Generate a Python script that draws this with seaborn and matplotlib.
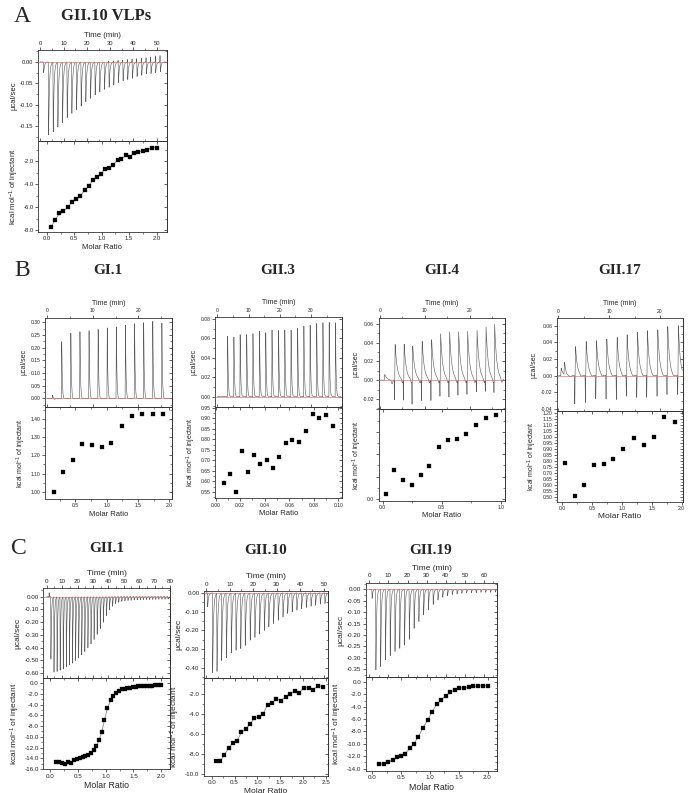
import numpy as np
import pandas as pd
import matplotlib
matplotlib.use("Agg")
import matplotlib.pyplot as plt
import seaborn as sns
from matplotlib.ticker import MultipleLocator, FormatStrFormatter, FuncFormatter

# ---------------- DATA ----------------
# Panel A: GII.10 VLPs
A_time = [1.3, 3.4, 5.4, 7.4, 9.4, 11.4, 13.4, 15.4, 17.4, 19.4, 21.4, 23.4, 25.4,
          27.4, 29.4, 31.4, 33.4, 35.4, 37.4, 39.4, 41.4, 43.4, 45.4, 47.4, 49.4, 51.4]
A_peak = [-0.025, -0.171, -0.163, -0.152, -0.142, -0.130, -0.120, -0.112, -0.103, -0.093,
          -0.085, -0.077, -0.070, -0.064, -0.059, -0.054, -0.048, -0.044, -0.041, -0.038,
          -0.034, -0.031, -0.028, -0.027, -0.025, -0.023]
A_blip = [0.0, 0.002, 0.003, 0.004, 0.005, 0.006, 0.007, 0.008, 0.009, 0.010, 0.012, 0.014, 0.015]
A_ratio = [0.08, 0.15, 0.23, 0.30, 0.38, 0.46, 0.53, 0.61, 0.69, 0.76, 0.84, 0.91, 0.99,
           1.06, 1.14, 1.21, 1.29, 1.36, 1.44, 1.52, 1.59, 1.67, 1.75, 1.82, 1.91, 2.00]
A_heat = [-7.71, -7.13, -6.54, -6.37, -6.02, -5.56, -5.32, -5.06, -4.50, -4.18, -3.66, -3.34,
          -3.08, -2.70, -2.58, -2.29, -1.88, -1.83, -1.48, -1.59, -1.24, -1.19, -1.07, -1.01,
          -0.81, -0.81]

# Panel B: GI.1
B1_time = [1.1, 3.1, 5.1, 7.1, 9.1, 11.1, 13.1, 15.1, 17.1, 19.1, 21.1, 23.1, 25.1]
B1_peak = [0.013, 0.224, 0.257, 0.263, 0.267, 0.272, 0.278, 0.282, 0.289, 0.295, 0.299, 0.304, 0.297]
B1_ratio = [0.16, 0.31, 0.46, 0.61, 0.76, 0.92, 1.07, 1.24, 1.40, 1.57, 1.73, 1.90]
B1_heat = [0.996, 1.11, 1.172, 1.26, 1.255, 1.244, 1.268, 1.36, 1.415, 1.43, 1.426, 1.43]

# Panel B: GII.3
B3_time = [3.2, 5.2, 7.2, 9.3, 11.3, 13.4, 15.4, 17.4, 19.5, 21.5, 23.5, 25.6, 27.6, 29.6,
           31.7, 33.7, 35.7, 37.7]
B3_peak = [0.0625, 0.0615, 0.064, 0.064, 0.065, 0.0676, 0.066, 0.0687, 0.0683, 0.0687, 0.0687,
           0.0704, 0.0728, 0.0738, 0.0755, 0.0762, 0.0766, 0.0762]
B3_ratio = [0.0068, 0.0117, 0.0166, 0.0215, 0.0264, 0.0313, 0.0364, 0.0416, 0.0467, 0.0519,
            0.0573, 0.0625, 0.068, 0.0736, 0.0793, 0.0845, 0.0897, 0.0954]
B3_heat = [0.594, 0.635, 0.55, 0.746, 0.643, 0.724, 0.683, 0.70, 0.665, 0.718, 0.781, 0.798,
           0.787, 0.841, 0.922, 0.903, 0.915, 0.863]

# Panel B: GII.4
B4_time = [1.0, 3.3, 5.3, 7.2, 9.3, 11.4, 13.4, 15.4, 17.4, 19.4, 21.5, 23.5, 25.4]
B4_peak = [0.006, 0.038, 0.038, 0.036, 0.041, 0.0426, 0.049, 0.051, 0.051, 0.0515, 0.0525, 0.056, 0.059]
B4_dip = [0.0, -0.021, -0.021, -0.024, -0.022, -0.022, -0.017, -0.018, -0.016, -0.015, -0.013, -0.012, -0.012]
B4_ratio = [0.028, 0.10, 0.175, 0.249, 0.322, 0.395, 0.475, 0.551, 0.63, 0.709, 0.791, 0.873, 0.955]
B4_heat = [0.052, 0.327, 0.212, 0.16, 0.271, 0.364, 0.576, 0.658, 0.669, 0.725, 0.822, 0.90, 0.933]

# Panel B: GII.17
B17_time = [0.46, 1.1, 3.28, 5.38, 7.41, 9.44, 11.48, 13.44, 15.48, 17.44, 19.48, 21.44, 23.54]
B17_peak = [0.009, 0.015, 0.035, 0.041, 0.042, 0.044, 0.046, 0.049, 0.052, 0.054, 0.055, 0.059, 0.060]
B17_dip = [0.0, 0.0, -0.034, -0.0325, -0.028, -0.0285, -0.029, -0.025, -0.0265, -0.0265, -0.025, -0.023, -0.023]
B17_ratio = [0.045, 0.206, 0.367, 0.528, 0.695, 0.857, 1.023, 1.195, 1.367, 1.533, 1.712, 1.883]
B17_heat = [0.785, 0.511, 0.602, 0.768, 0.771, 0.815, 0.896, 0.987, 0.929, 0.996, 1.162, 1.123]

# Panel C: GII.1
C1_time = [2.6, 4.6, 6.6, 8.6, 10.6, 12.6, 14.6, 16.6, 18.6, 20.6, 22.6, 24.6, 26.6, 28.6,
           30.6, 32.6, 34.6, 36.6, 38.6, 40.6, 42.6, 44.6, 46.6, 48.6, 50.6, 52.6, 54.6, 56.6,
           58.6, 60.6, 62.6, 64.6, 66.6, 68.6, 70.6, 72.6, 74.6, 76.6, 78.6]
C1_peak = [-0.49, -0.59, -0.585, -0.575, -0.565, -0.55, -0.535, -0.52, -0.50, -0.48, -0.455,
           -0.43, -0.40, -0.37, -0.335, -0.295, -0.25, -0.20, -0.15, -0.105, -0.075, -0.055,
           -0.045, -0.038, -0.034, -0.031, -0.029, -0.027, -0.026, -0.025, -0.024, -0.023,
           -0.023, -0.022, -0.022, -0.021, -0.021, -0.021, -0.020]
C1_ratio = [0.108, 0.157, 0.205, 0.259, 0.319, 0.367, 0.427, 0.482, 0.53, 0.58, 0.632, 0.686,
            0.735, 0.783, 0.831, 0.879, 0.928, 0.976, 1.03, 1.085, 1.133, 1.187, 1.236, 1.284,
            1.338, 1.386, 1.435, 1.489, 1.537, 1.585, 1.64, 1.688, 1.736, 1.79, 1.838, 1.886,
            1.94, 1.99]
C1_heat = [-14.76, -14.76, -14.94, -15.13, -14.63, -14.82, -14.38, -14.07, -13.89, -13.76,
           -13.64, -13.33, -12.95, -12.45, -11.71, -10.52, -9.09, -6.79, -4.67, -3.18, -2.31,
           -1.75, -1.37, -1.13, -1.0, -0.94, -0.82, -0.69, -0.63, -0.57, -0.57, -0.50, -0.50,
           -0.44, -0.44, -0.38, -0.38, -0.32]

# Panel C: GII.10
C10_time = [0.56, 2.68, 4.52, 6.5, 8.5, 10.6, 12.6, 14.6, 16.5, 18.6, 20.6, 22.6, 24.6, 26.5,
            28.5, 30.5, 32.5, 34.5, 36.4, 38.4, 40.4, 42.4, 44.4, 46.3, 48.3, 50.3]
C10_peak = [-0.075, -0.427, -0.418, -0.36, -0.347, -0.32, -0.306, -0.297, -0.28, -0.252, -0.238,
            -0.22, -0.20, -0.181, -0.164, -0.146, -0.128, -0.11, -0.101, -0.092, -0.084, -0.078,
            -0.071, -0.066, -0.06, -0.057]
C10_ratio = [0.087, 0.18, 0.277, 0.372, 0.459, 0.554, 0.649, 0.743, 0.838, 0.933, 1.028, 1.122,
             1.224, 1.319, 1.414, 1.516, 1.618, 1.72, 1.822, 1.917, 2.019, 2.121, 2.223, 2.332, 2.44]
C10_heat = [-8.62, -8.69, -8.06, -7.33, -6.9, -6.67, -5.81, -5.48, -5.01, -4.42, -4.25, -4.02,
            -3.06, -2.93, -2.46, -2.66, -2.26, -1.97, -1.70, -1.87, -1.37, -1.40, -1.57, -1.17, -1.27]

# Panel C: GII.19
C19_time = [1.3, 3.3, 5.8, 8.3, 10.8, 13.3, 15.8, 18.3, 20.8, 23.3, 25.8, 28.3, 30.8, 33.3,
            35.8, 38.3, 40.8, 43.3, 45.8, 48.3, 50.8, 53.3, 55.8, 58.3, 60.8, 63.3, 65.8]
C19_peak = [-0.04, -0.353, -0.338, -0.309, -0.29, -0.272, -0.258, -0.244, -0.219, -0.171, -0.141,
            -0.112, -0.09, -0.066, -0.047, -0.035, -0.028, -0.023, -0.02, -0.0175, -0.016, -0.015,
            -0.015, -0.013, -0.013, -0.013, -0.012]
C19_ratio = [0.122, 0.203, 0.278, 0.354, 0.423, 0.498, 0.573, 0.649, 0.724, 0.799, 0.88, 0.961,
             1.036, 1.117, 1.193, 1.274, 1.354, 1.436, 1.51, 1.592, 1.673, 1.754, 1.84, 1.927, 2.014]
C19_heat = [-13.19, -13.25, -12.92, -12.65, -12.17, -11.95, -11.58, -10.72, -9.96, -8.83, -7.38,
            -6.19, -4.85, -3.61, -2.91, -2.26, -1.62, -1.35, -0.97, -0.97, -0.81, -0.70, -0.65,
            -0.59, -0.59]

# ---------------- STYLE ----------------
sns.set_theme(style="ticks")
plt.rcParams['font.family'] = ['Liberation Sans', 'DejaVu Sans']
plt.rcParams['axes.unicode_minus'] = False
plt.rcParams['axes.linewidth'] = 0.6
plt.rcParams['mathtext.fontset'] = 'custom'
plt.rcParams['mathtext.rm'] = 'Liberation Sans'
plt.rcParams['mathtext.it'] = 'Liberation Sans:italic'

W, H = 695, 793
fig = plt.figure(figsize=(W / 100, H / 100), dpi=100)
fig.patch.set_facecolor('white')


def rect(l, r, t, b):
    return [l / W, 1 - b / H, (r - l) / W, (b - t) / H]


def thermo(times, heights, rise, tau, t0, t1, spike_t=(), spike_h=(), post=0.0,
           post_c=1.0, post_w=0.3, step=0.01):
    t = np.arange(t0, t1, step)
    y = np.zeros_like(t)
    for ti, h in zip(times, heights):
        s = t - ti
        m1 = (s >= 0) & (s < rise)
        y[m1] += h * s[m1] / rise
        m2 = s >= rise
        y[m2] += h * np.exp(-(s[m2] - rise) / tau)
        if post:
            y += post * np.exp(-((s - post_c) / post_w) ** 2)
    for ti, h in zip(spike_t, spike_h):
        s = t - ti
        w = 0.08
        m = np.abs(s) < w
        y[m] += h * (1 - np.abs(s[m]) / w)
    return pd.DataFrame({'time': t, 'power': y})


def style_axis(ax, side, xmaj, xmin, xfmt, ymaj, ymin, yfmt, fs):
    ax.xaxis.set_major_locator(MultipleLocator(xmaj))
    ax.xaxis.set_minor_locator(MultipleLocator(xmin))
    ax.yaxis.set_major_locator(MultipleLocator(ymaj))
    ax.yaxis.set_minor_locator(MultipleLocator(ymin))
    ax.xaxis.set_major_formatter(xfmt)
    ax.yaxis.set_major_formatter(yfmt)
    ax.xaxis.set_ticks_position(side)
    ax.xaxis.set_label_position(side)
    ax.yaxis.set_ticks_position('left')
    ax.tick_params(which='major', direction='out', length=2.0, width=0.5, labelsize=fs, pad=1.2,
                   colors='#222222')
    ax.tick_params(which='minor', direction='out', length=1.1, width=0.4)
    other = 'bottom' if side == 'top' else 'top'
    sx = ax.secondary_xaxis(other)
    sx.xaxis.set_major_locator(MultipleLocator(xmaj))
    sx.xaxis.set_minor_locator(MultipleLocator(xmin))
    sx.tick_params(which='major', direction='in', length=2.0, width=0.5, labelbottom=False, labeltop=False)
    sx.tick_params(which='minor', direction='in', length=1.1, width=0.4)
    sy = ax.secondary_yaxis('right')
    sy.yaxis.set_major_locator(MultipleLocator(ymaj))
    sy.yaxis.set_minor_locator(MultipleLocator(ymin))
    sy.tick_params(which='major', direction='in', length=2.0, width=0.5, labelright=False)
    sy.tick_params(which='minor', direction='in', length=1.1, width=0.4)
    for s in ax.spines.values():
        s.set_linewidth(0.6)
        s.set_color('#333333')


def panel(box, therm, tlim, tmaj, tmin, ylim_t, ymaj_t, ymin_t, yfmt_t,
          ratio, heat, xlim_b, xmaj_b, xmin_b, xfmt_b, ylim_b, ymaj_b, ymin_b, yfmt_b,
          fit, fs_tick, fs_lab, fs_molar):
    l, r, t, m, b = box
    axt = fig.add_axes(rect(l, r, t, m))
    axb = fig.add_axes(rect(l, r, m, b))
    sns.lineplot(data=therm, x='time', y='power', ax=axt, color='#5a5a5a', lw=0.42,
                 estimator=None, errorbar=None, sort=False)
    axt.axhline(0, color='#d96a6a', lw=0.45, zorder=3)
    axt.set_xlim(*tlim)
    axt.set_ylim(*ylim_t)
    style_axis(axt, 'top', tmaj, tmin, FormatStrFormatter('%d'), ymaj_t, ymin_t, yfmt_t, fs_tick)
    axt.set_xlabel('Time (min)', fontsize=fs_lab, labelpad=2.5)
    axt.set_ylabel('µcal/sec', fontsize=fs_lab, labelpad=2)

    df = pd.DataFrame({'ratio': ratio, 'heat': heat})
    if fit:
        sns.lineplot(data=df, x='ratio', y='heat', ax=axb, color='#8a8a8a', lw=0.6,
                     estimator=None, errorbar=None, sort=True)
    sns.scatterplot(data=df, x='ratio', y='heat', ax=axb, marker='s', s=7, color='black',
                    edgecolor='black', linewidth=0.2, zorder=4)
    axb.set_xlim(*xlim_b)
    axb.set_ylim(*ylim_b)
    style_axis(axb, 'bottom', xmaj_b, xmin_b, xfmt_b, ymaj_b, ymin_b, yfmt_b, fs_tick)
    axb.set_xlabel('Molar Ratio', fontsize=fs_molar, labelpad=1.5)
    axb.set_ylabel('kcal mol$^{-1}$ of injectant', fontsize=fs_lab, labelpad=2)
    return axt, axb


f2 = FormatStrFormatter('%.2f')
f1 = FormatStrFormatter('%.1f')

# ---- A ----
panel((38, 167, 50, 141, 232),
      thermo(A_time, A_peak, 0.15, 0.35, 0.0, 54.0, spike_t=A_time[13:], spike_h=A_blip),
      (-1, 54.4), 10, 5, (-0.185, 0.028), 0.05, 0.025, f2,
      A_ratio, A_heat, (-0.16, 2.19), 0.5, 0.25, f1, (-8.17, -0.23), 2.0, 1.0, f1,
      True, 4.2, 5.6, 5.6)

# ---- B ----
panel((45, 172, 317.7, 407, 499),
      thermo(B1_time, B1_peak, 0.08, 0.12, 0.0, 27.2, post=-0.004, post_c=0.5, post_w=0.25),
      (-0.5, 27.4), 10, 5, (-0.034, 0.318), 0.05, 0.025, f2,
      B1_ratio, B1_heat, (0.017, 2.04), 0.5, 0.25, f1, (0.96, 1.466), 0.10, 0.05, f2,
      False, 3.6, 5.0, 5.5)

panel((215, 341.7, 317.3, 406.7, 498.3),
      thermo(B3_time, B3_peak, 0.1, 0.2, 0.0, 39.6, post=-0.002, post_c=0.6, post_w=0.3),
      (-0.75, 39.8), 10, 5, (-0.0103, 0.0817), 0.02, 0.01, f2,
      B3_ratio, B3_heat, (-0.0005, 0.1027), 0.02, 0.01, f2, (0.52, 0.9547), 0.05, 0.025, f2,
      False, 3.6, 5.0, 5.5)

panel((378.5, 505, 317.7, 409.3, 500.7),
      thermo(B4_time, B4_peak, 0.1, 0.45, 0.0, 27.6, spike_t=[x - 0.05 for x in B4_time],
             spike_h=B4_dip, post=-0.004, post_c=1.7, post_w=0.2),
      (-0.3, 27.8), 10, 5, (-0.031, 0.0664), 0.02, 0.01, f2,
      B4_ratio, B4_heat, (-0.035, 1.035), 0.5, 0.25, f1, (-0.019, 1.0), 0.25, 0.125,
      FuncFormatter(lambda v, p: '0.0' if abs(v) < 1e-9 else ''),
      False, 3.6, 5.0, 5.5)

panel((556.7, 683.3, 318.3, 411, 501.7),
      thermo(B17_time, B17_peak, 0.1, 0.35, 0.0, 24.4, spike_t=[x - 0.05 for x in B17_time],
             spike_h=B17_dip, post=-0.002, post_c=1.2, post_w=0.3),
      (-0.33, 24.6), 10, 5, (-0.0426, 0.069), 0.02, 0.01, f2,
      B17_ratio, B17_heat, (-0.095, 2.03), 0.5, 0.25, f1, (0.461, 1.214), 0.05, 0.025, f2,
      False, 3.6, 5.0, 6.0)

# ---- C ----
panel((43.3, 170, 588.3, 678.3, 769.3),
      thermo(C1_time, C1_peak, 0.15, 0.35, 0.0, 79.5, spike_t=[1.6], spike_h=[0.03]),
      (-2.2, 80), 10, 5, (-0.64, 0.065), 0.10, 0.05, f2,
      C1_ratio, C1_heat, (-0.13, 2.16), 0.5, 0.25, f1, (-16.06, 0.93), 2.0, 1.0, f1,
      True, 4.5, 6.0, 6.3)

panel((204, 327.7, 591, 678.3, 776),
      thermo(C10_time, C10_peak, 0.15, 0.35, 0.0, 51.4),
      (-0.85, 51.6), 10, 5, (-0.457, 0.01), 0.10, 0.05, f2,
      C10_ratio, C10_heat, (-0.17, 2.54), 0.5, 0.25, f1, (-10.15, -0.44), 2.0, 1.0, f1,
      True, 4.5, 6.0, 6.0)

panel((365.7, 497.3, 582.7, 677.3, 771),
      thermo(C19_time, C19_peak, 0.15, 0.35, 0.0, 66.8),
      (-1.9, 67.0), 10, 5, (-0.385, 0.029), 0.05, 0.025, f2,
      C19_ratio, C19_heat, (-0.115, 2.17), 0.5, 0.25, f1, (-14.38, 0.75), 2.0, 1.0, f1,
      True, 4.5, 6.0, 6.3)

# ---- titles ----
def ftext(x, y, s, size, bold=False):
    fig.text(x / W, 1 - y / H, s, ha='center', va='center', fontsize=size,
             family=['Liberation Serif', 'DejaVu Serif'],
             fontweight='bold' if bold else 'normal')

ftext(22, 16, 'A', 17)
ftext(106, 16, 'GII.10 VLPs', 12, True)
ftext(22, 270, 'B', 17)
ftext(108, 271, 'GI.1', 11, True)
ftext(278, 271, 'GII.3', 11, True)
ftext(442, 271, 'GII.4', 11, True)
ftext(620, 271, 'GII.17', 11, True)
ftext(19, 549, 'C', 17)
ftext(107, 549, 'GII.1', 11, True)
ftext(266, 551, 'GII.10', 11, True)
ftext(431, 550, 'GII.19', 11, True)

fig.savefig('out.png', dpi=100, facecolor='white')
